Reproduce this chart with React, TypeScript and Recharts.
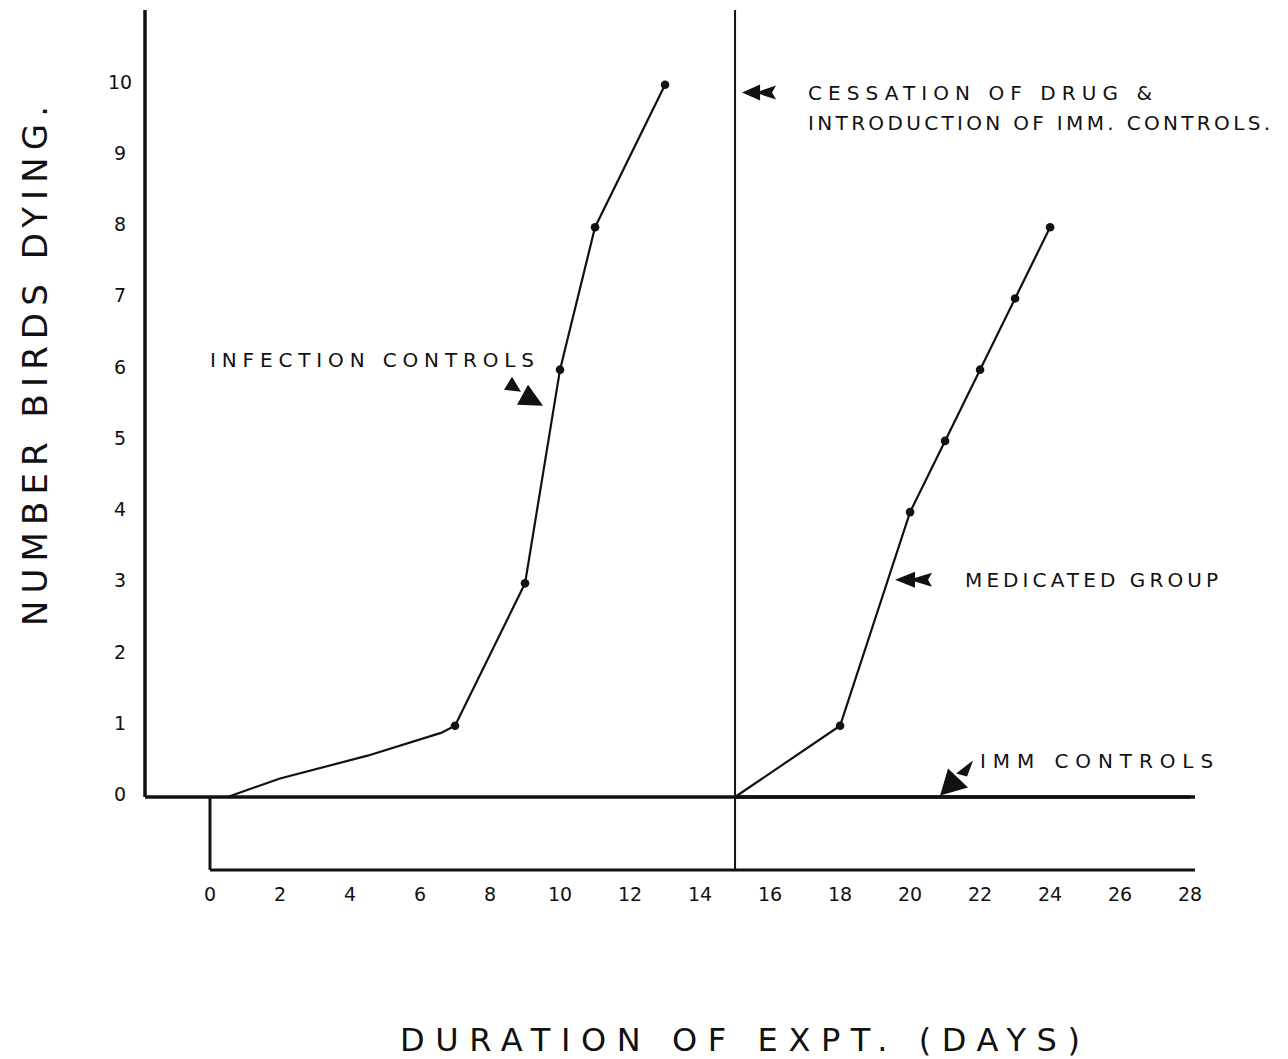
import { LineChart, Line, XAxis, YAxis, ReferenceLine, ReferenceDot } from "recharts"

// infection controls (days, cumulative deaths)
const infectionDays = [0.5, 2, 4.5, 6.6, 7, 9, 10, 11, 13]
const infectionDead = [0, 0.26, 0.58, 0.9, 1, 3, 6, 8, 10]
const infectionDots = [7, 9, 10, 11, 13]

// medicated group
const medicatedDays = [15, 18, 20, 21, 22, 23, 24]
const medicatedDead = [0, 1, 4, 5, 6, 7, 8]
const medicatedDots = [18, 20, 21, 22, 23, 24]

// imm controls: no deaths
const immDays = [15, 28]
const immDead = [0, 0]

const xTicks = [0, 2, 4, 6, 8, 10, 12, 14, 16, 18, 20, 22, 24, 26, 28]
const yTicks = [0, 1, 2, 3, 4, 5, 6, 7, 8, 9, 10]

const X_MIN = -1.857
const X_MAX = 28.14
const Y_MIN = -1.025
const Y_MAX = 11.05

const infection = infectionDays.map((d, i) => ({ day: d, dead: infectionDead[i], dot: infectionDots.includes(d) }))
const medicated = medicatedDays.map((d, i) => ({ day: d, dead: medicatedDead[i], dot: medicatedDots.includes(d) }))
const imm = immDays.map((d, i) => ({ day: d, dead: immDead[i] }))

const INK = "#111"
const FONT = "'DejaVu Sans', sans-serif"

const Dot = (p: any) => (p.payload && p.payload.dot ? <circle cx={p.cx} cy={p.cy} r={4.3} fill={INK} /> : <g />)

const tri = (pts: number[][], cx: number, cy: number) =>
  pts.map(([dx, dy]) => `${cx + dx},${cy + dy}`).join(" ")

const labelText = {
  fontFamily: FONT,
  fontSize: 20,
  fill: INK,
}

export default function App() {
  return (
    <div style={{ width: 1280, height: 1051 }}>
      <LineChart width={1280} height={1051} margin={{ top: 2, right: 93, bottom: 149, left: 77 }}>
        <XAxis
          type="number"
          dataKey="day"
          domain={[X_MIN, X_MAX]}
          ticks={xTicks}
          allowDataOverflow
          axisLine={false}
          tickLine={false}
          tickSize={0}
          tickMargin={0}
          height={40}
          tick={(p: any) => (
            <text x={p.x} y={p.y + 24} textAnchor="middle" dominantBaseline="central" style={{ ...labelText, fontSize: 19 }}>
              {p.payload.value}
            </text>
          )}
          label={{
            content: () => (
              <text x={732} y={1032} textAnchor="middle" dominantBaseline="central" textLength={680} lengthAdjust="spacing"
                style={{ fontFamily: FONT, fontSize: 32, fill: INK }}>
                DURATION OF EXPT. (DAYS)
              </text>
            ),
          }}
        />
        <YAxis
          type="number"
          dataKey="dead"
          domain={[Y_MIN, Y_MAX]}
          ticks={yTicks}
          allowDataOverflow
          axisLine={false}
          tickLine={false}
          tickSize={0}
          tickMargin={0}
          width={60}
          tick={(p: any) => (
            <text x={p.x - 25} y={p.y - 3} textAnchor="middle" dominantBaseline="central" style={{ ...labelText, fontSize: 19 }}>
              {p.payload.value}
            </text>
          )}
          label={{
            content: () => (
              <text x={27} y={358} textAnchor="middle" dominantBaseline="central" textLength={520} lengthAdjust="spacing"
                transform="rotate(-90 27 358)" style={{ fontFamily: FONT, fontSize: 34, fill: INK }}>
                NUMBER BIRDS DYING.
              </text>
            ),
          }}
        />

        {/* frame lines */}
        <ReferenceLine segment={[{ x: X_MIN, y: 0 }, { x: X_MIN, y: Y_MAX }]} stroke={INK} strokeWidth={3.5} ifOverflow="visible" />
        <ReferenceLine segment={[{ x: X_MIN, y: 0 }, { x: X_MAX, y: 0 }]} stroke={INK} strokeWidth={3.5} ifOverflow="visible" />
        <ReferenceLine segment={[{ x: 0, y: Y_MIN }, { x: X_MAX, y: Y_MIN }]} stroke={INK} strokeWidth={3} ifOverflow="visible" />
        <ReferenceLine segment={[{ x: 0, y: Y_MIN }, { x: 0, y: 0 }]} stroke={INK} strokeWidth={3} ifOverflow="visible" />
        <ReferenceLine x={15} stroke={INK} strokeWidth={2} ifOverflow="visible" />

        <Line data={infection} dataKey="dead" type="linear" stroke={INK} strokeWidth={2.2} dot={<Dot />} activeDot={false} isAnimationActive={false} />
        <Line data={medicated} dataKey="dead" type="linear" stroke={INK} strokeWidth={2.2} dot={<Dot />} activeDot={false} isAnimationActive={false} />
        <Line data={imm} dataKey="dead" type="linear" stroke={INK} strokeWidth={3.5} dot={false} activeDot={false} isAnimationActive={false} />

        {/* annotations */}
        <ReferenceDot x={15} y={9.89} r={0} ifOverflow="visible"
          shape={(p: any) => (
            <g>
              <polygon points={tri([[7, 0], [25, -8], [25, 8]], p.cx, p.cy)} fill={INK} />
              <polygon points={tri([[20, 0], [41, -7], [37, 0], [41, 7]], p.cx, p.cy)} fill={INK} />
              <text x={p.cx + 73} y={p.cy} dominantBaseline="central" textLength={344} lengthAdjust="spacing" style={labelText}>
                CESSATION OF DRUG &amp;
              </text>
              <text x={p.cx + 73} y={p.cy + 30} dominantBaseline="central" textLength={462} lengthAdjust="spacing" style={labelText}>
                INTRODUCTION OF IMM. CONTROLS.
              </text>
            </g>
          )}
        />
        <ReferenceDot x={0} y={6.14} r={0} ifOverflow="visible"
          shape={(p: any) => (
            <g>
              <text x={p.cx} y={p.cy} dominantBaseline="central" textLength={324} lengthAdjust="spacing" style={labelText}>
                INFECTION CONTROLS
              </text>
              <polygon points={tri([[294, 30], [302, 17], [311, 32]], p.cx, p.cy)} fill={INK} />
              <polygon points={tri([[307, 45], [318, 25], [333, 46]], p.cx, p.cy)} fill={INK} />
            </g>
          )}
        />
        <ReferenceDot x={21.57} y={3.05} r={0} ifOverflow="visible"
          shape={(p: any) => (
            <g>
              <polygon points={tri([[-70, 0], [-50, -8], [-50, 8]], p.cx, p.cy)} fill={INK} />
              <polygon points={tri([[-56, 0], [-33, -7], [-37, 0], [-33, 7]], p.cx, p.cy)} fill={INK} />
              <text x={p.cx} y={p.cy} dominantBaseline="central" textLength={253} lengthAdjust="spacing" style={labelText}>
                MEDICATED GROUP
              </text>
            </g>
          )}
        />
        <ReferenceDot x={22} y={0.5} r={0} ifOverflow="visible"
          shape={(p: any) => (
            <g>
              <polygon points={tri([[-40, 34], [-32, 7], [-12, 26]], p.cx, p.cy)} fill={INK} />
              <polygon points={tri([[-24, 12], [-7, -1], [-13, 15]], p.cx, p.cy)} fill={INK} />
              <text x={p.cx} y={p.cy} dominantBaseline="central" textLength={233} lengthAdjust="spacing" style={labelText}>
                IMM CONTROLS
              </text>
            </g>
          )}
        />
      </LineChart>
    </div>
  )
}
